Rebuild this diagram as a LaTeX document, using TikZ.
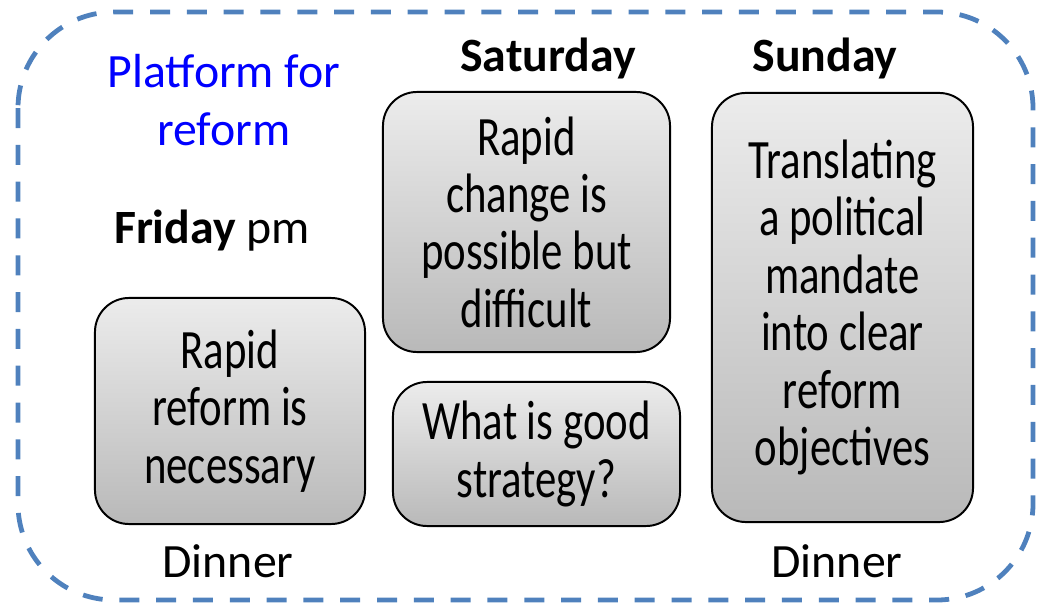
\documentclass[tikz,border=0pt]{standalone}
\usepackage{fontspec}
\setmainfont{Carlito}
\newfontfamily\narrowfont[FakeStretch=0.77]{Carlito}
\usetikzlibrary{positioning}
\definecolor{frameblue}{RGB}{79,129,189}

\begin{document}
\begin{tikzpicture}[x=0.025cm,y=-0.025cm,
  talk box/.style={draw=black,line width=1.4pt,rounded corners=0.85cm,top color=gray!15,bottom color=gray!55,align=center,inner sep=0pt,font=\narrowfont\fontsize{39.5}{40.8}\selectfont},
  day label/.style={anchor=base,font=\fontsize{34}{41}\selectfont}]
  \useasboundingbox (0,0) rectangle (1042,605);

  % dashed frame round the weekend
  \draw[frameblue,line width=3.4pt,rounded corners=2.4cm,dash pattern=on 0.5cm off 0.42cm] (18,12) rectangle (1033,600);

  % sessions
  \node[talk box,minimum width=6.75cm,minimum height=5.65cm] (fri) at (230,411) {Rapid\\reform is\\necessary};
  \node[talk box,minimum width=7.175cm,minimum height=6.5cm] (sat1) at (526.5,222) {Rapid\\change is\\possible but\\difficult};
  \node[talk box,minimum width=7.175cm,minimum height=3.6cm] (sat2) at (536.5,454) {What is good\\strategy?};
  \node[talk box,minimum width=6.525cm,minimum height=10.725cm] (sun) at (842.5,307.5) {Translating\\a political\\mandate\\into clear\\reform\\objectives};

  % labels
  \node[align=center,text=blue,font=\fontsize{34}{41.5}\selectfont] (plat) at (224,100) {Platform for\\reform};
  \node[day label] (frilab) at (212,243) {\textbf{Friday} pm};
  \node[day label] (satlab) at (548,71) {\textbf{Saturday}};
  \node[day label] (sunlab) at (825,71) {\textbf{Sunday}};
  \node[day label] (din1) at (228,577) {Dinner};
  \node[day label] (din2) at (837,577) {Dinner};
\end{tikzpicture}
\end{document}
